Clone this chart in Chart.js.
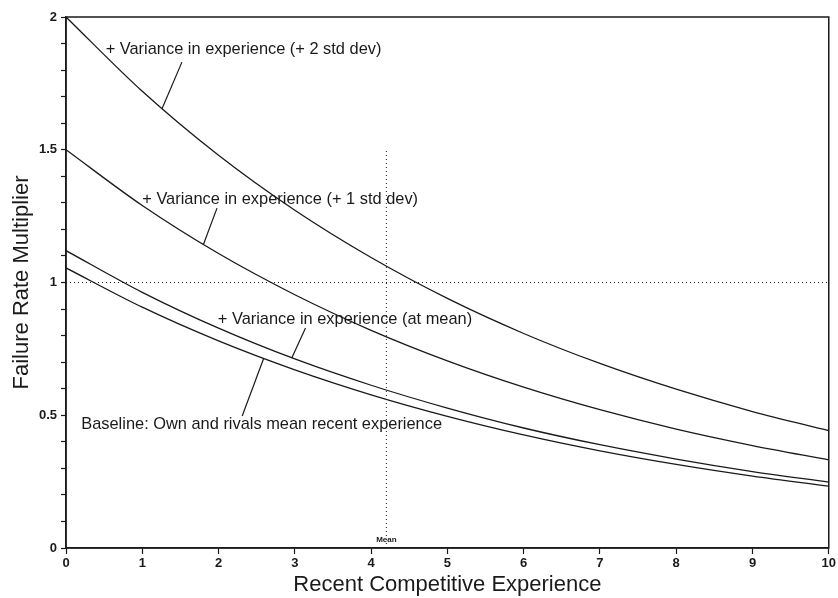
<!DOCTYPE html>
<html>
<head>
<meta charset="utf-8">
<script src="https://cdn.jsdelivr.net/npm/chart.js@4/dist/chart.umd.min.js"></script>
<style>
  html, body { margin: 0; padding: 0; background: #fff; }
  #wrap { width: 838px; height: 598px; }
</style>
</head>
<body>
<div id="wrap"><canvas id="chart" width="838" height="598"></canvas></div>
<script>
// values at each whole unit of experience
const xValues  = [0, 1, 2, 3, 4, 5, 6, 7, 8, 9, 10];
const plus2Sd  = [2.00, 1.72, 1.479, 1.272, 1.094, 0.940, 0.808, 0.695, 0.598, 0.514, 0.442];
const plus1Sd  = [1.50, 1.29, 1.109, 0.954, 0.820, 0.705, 0.606, 0.521, 0.448, 0.386, 0.332];
const atMean   = [1.12, 0.963, 0.828, 0.712, 0.613, 0.527, 0.452, 0.389, 0.335, 0.288, 0.248];
const baseline = [1.055, 0.907, 0.780, 0.671, 0.577, 0.496, 0.426, 0.366, 0.315, 0.271, 0.233];

const meanX = 4.2;
const meanLineTop = 1.5;
const refY = 1;
const xTicks = [0, 1, 2, 3, 4, 5, 6, 7, 8, 9, 10];
const yLabels = [0, 0.5, 1, 1.5, 2];

const labelTexts = [
  '+ Variance in experience (+ 2 std dev)',
  '+ Variance in experience (+ 1 std dev)',
  '+ Variance in experience (at mean)',
  'Baseline: Own and rivals mean recent experience'
];

// where each label sits and where its pointer line runs, in data units
const labelPlaces = [
  { x: 0.52, y: 1.876, from: [1.52, 1.83], to: [1.26, 1.655] },
  { x: 1.00, y: 1.314, from: [1.98, 1.28], to: [1.80, 1.142] },
  { x: 1.99, y: 0.862, from: [3.14, 0.829], to: [2.96, 0.716] },
  { x: 0.20, y: 0.467, from: [2.31, 0.497], to: [2.59, 0.713] }
];

const ink = '#1a1a1a';
const font = '"Liberation Sans", Arial, Helvetica, sans-serif';

function pts(ys) {
  return xValues.map((x, i) => ({ x: x, y: ys[i] }));
}

function curve(ys) {
  return {
    data: pts(ys),
    borderColor: ink,
    borderWidth: 1.3,
    pointRadius: 0,
    fill: false,
    cubicInterpolationMode: 'monotone'
  };
}

function dotted(data) {
  return {
    data: data,
    borderColor: ink,
    borderWidth: 1,
    borderDash: [1, 3],
    pointRadius: 0,
    fill: false
  };
}

const notes = {
  id: 'notes',
  afterDatasetsDraw(chart) {
    const { ctx, chartArea, scales: { x, y } } = chart;
    ctx.save();
    ctx.fillStyle = ink;
    ctx.strokeStyle = ink;
    ctx.lineWidth = 1.2;
    ctx.font = '16.4px ' + font;
    ctx.textBaseline = 'middle';
    ctx.textAlign = 'left';
    labelTexts.forEach((t, i) => {
      const p = labelPlaces[i];
      ctx.fillText(t, x.getPixelForValue(p.x), y.getPixelForValue(p.y));
      ctx.beginPath();
      ctx.moveTo(x.getPixelForValue(p.from[0]), y.getPixelForValue(p.from[1]));
      ctx.lineTo(x.getPixelForValue(p.to[0]), y.getPixelForValue(p.to[1]));
      ctx.stroke();
    });
    ctx.font = 'bold 8px ' + font;
    ctx.textAlign = 'center';
    ctx.fillText('Mean', x.getPixelForValue(meanX), y.getPixelForValue(0.03));
    // frame round the plot
    ctx.lineWidth = 1.5;
    ctx.strokeRect(chartArea.left, chartArea.top, chartArea.right - chartArea.left, chartArea.bottom - chartArea.top);
    ctx.restore();
  }
};

new Chart(document.getElementById('chart'), {
  type: 'line',
  data: {
    datasets: [
      curve(plus2Sd),
      curve(plus1Sd),
      curve(atMean),
      curve(baseline),
      dotted([{ x: xValues[0], y: refY }, { x: xValues[xValues.length - 1], y: refY }]),
      dotted([{ x: meanX, y: 0 }, { x: meanX, y: meanLineTop }])
    ]
  },
  options: {
    responsive: false,
    animation: false,
    layout: { padding: { top: 17, right: 6, left: 0, bottom: 0 } },
    plugins: { legend: { display: false }, tooltip: { enabled: false } },
    scales: {
      x: {
        type: 'linear',
        min: 0,
        max: 10,
        afterBuildTicks: s => { s.ticks = xTicks.map(v => ({ value: v })); },
        afterFit: s => { s.height = 50; },
        border: { color: ink, width: 1.5 },
        grid: { drawOnChartArea: false, tickLength: 6, color: ink, tickWidth: 1.2 },
        ticks: { color: ink, font: { family: font, size: 13, weight: 'bold' }, padding: 2, maxRotation: 0 },
        title: {
          display: true,
          text: 'Recent Competitive Experience',
          color: ink,
          font: { family: font, size: 22 },
          padding: { top: 0, bottom: 0 }
        }
      },
      y: {
        min: 0,
        max: 2,
        ticks: {
          stepSize: 0.1,
          color: ink,
          font: { family: font, size: 13, weight: 'bold' },
          padding: 4,
          callback: v => {
            const r = Math.round(v * 10) / 10;
            return yLabels.includes(r) ? String(r) : '';
          }
        },
        afterFit: s => { s.width = 66; },
        border: { color: ink, width: 1.5 },
        grid: { drawOnChartArea: false, tickLength: 5, color: ink, tickWidth: 1.2 },
        title: {
          display: true,
          text: 'Failure Rate Multiplier',
          color: ink,
          font: { family: font, size: 22 },
          padding: { top: 9, bottom: 0 }
        }
      }
    }
  },
  plugins: [notes]
});
</script>
</body>
</html>
